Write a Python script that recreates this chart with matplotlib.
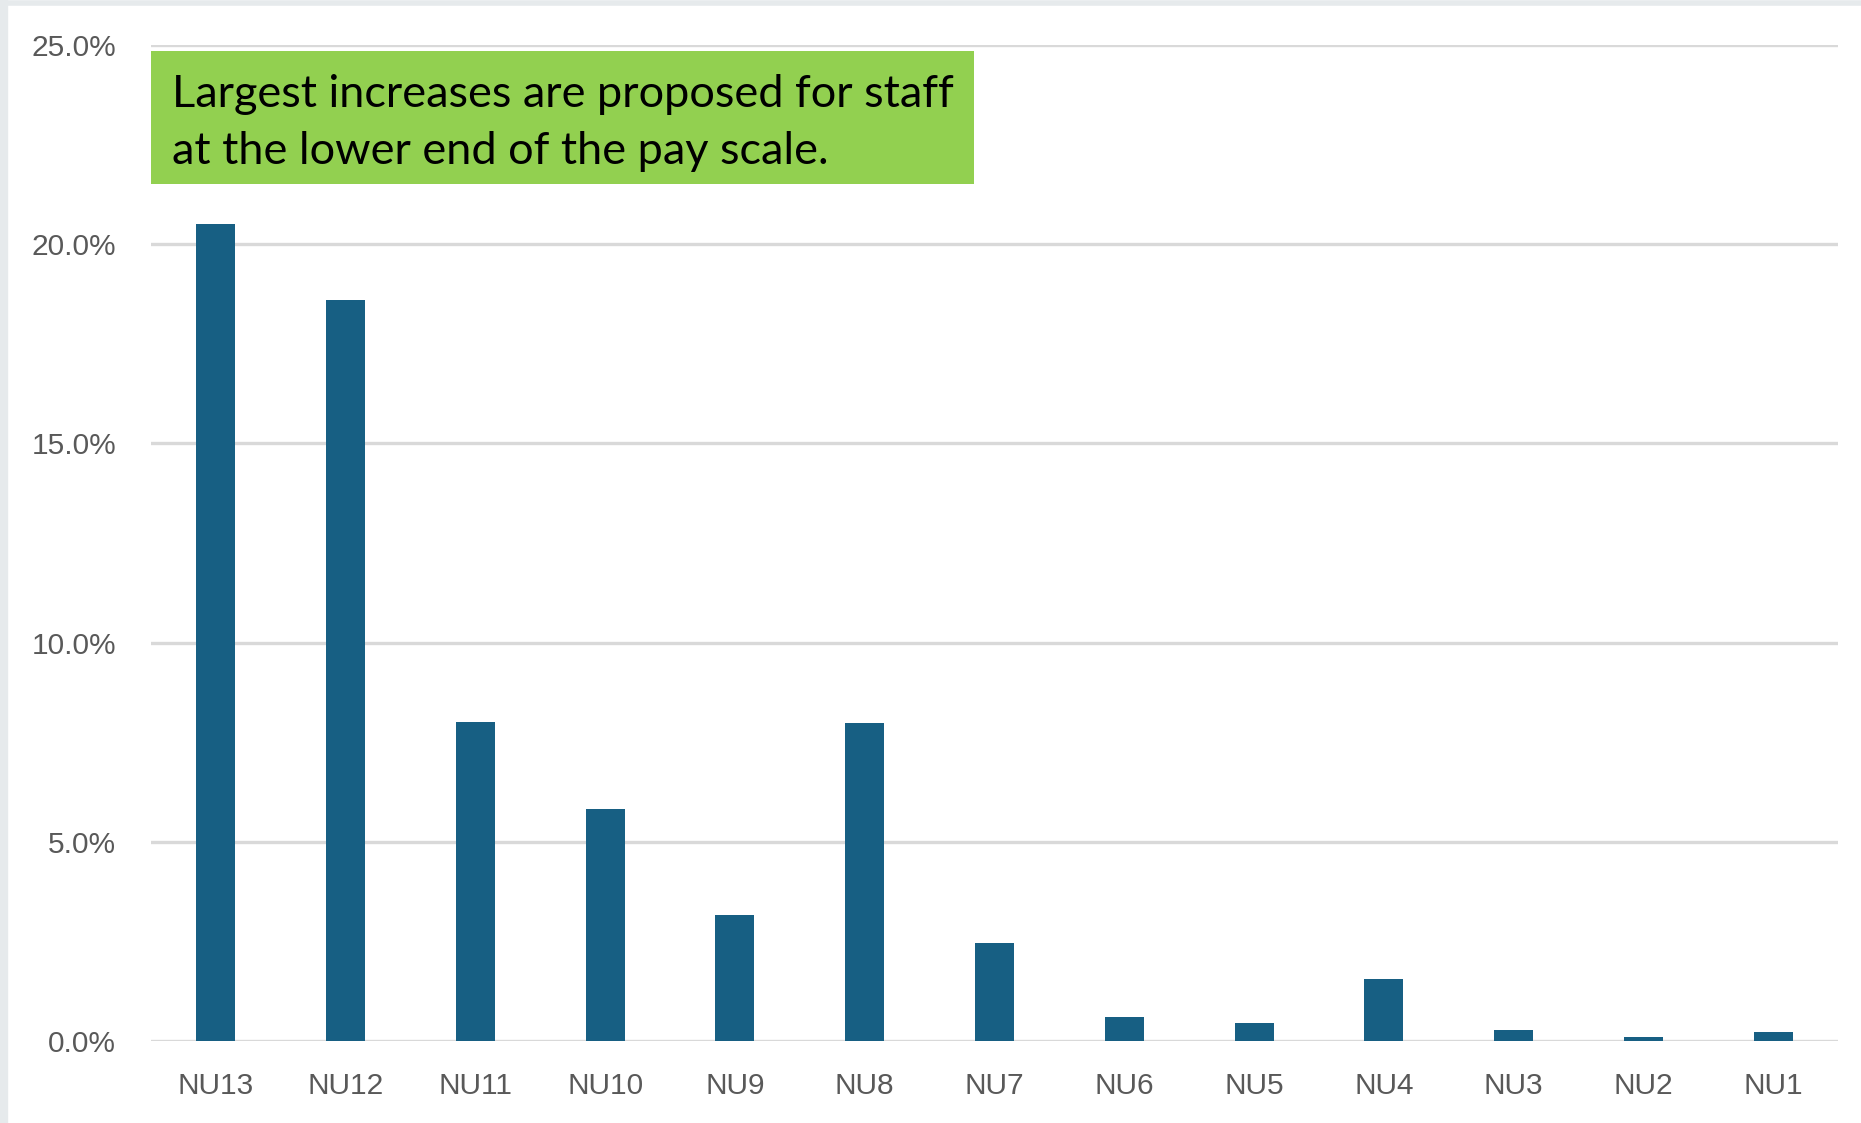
import matplotlib
matplotlib.use("Agg")
import matplotlib.pyplot as plt
from matplotlib.patches import Rectangle
from matplotlib.ticker import FuncFormatter
from matplotlib.lines import Line2D

categories = ["NU13", "NU12", "NU11", "NU10", "NU9", "NU8", "NU7",
              "NU6", "NU5", "NU4", "NU3", "NU2", "NU1"]
values = [20.5, 18.6, 8.0, 5.83, 3.17, 7.97, 2.45, 0.6, 0.46, 1.56, 0.28, 0.09, 0.23]
yticks = [0, 5, 10, 15, 20, 25]
note = "Largest increases are proposed for staff\nat the lower end of the pay scale."

W, H = 1861, 1123
fig = plt.figure(figsize=(W / 100, H / 100), dpi=100)
fig.patch.set_facecolor("white")

# axes placement in pixels
left, right, bottom, top = 151, 1838, H - 1041, H - 45
ax = fig.add_axes([left / W, bottom / H, (right - left) / W, (top - bottom) / H])

x = list(range(len(categories)))
ax.bar(x, values, width=0.30, color="#175f83", zorder=3)

ax.set_xlim(-0.5, len(categories) - 0.5)
ax.set_ylim(0, 25)
ax.set_yticks(yticks)
ax.yaxis.set_major_formatter(FuncFormatter(lambda v, p: f"{v:.1f}%"))
ax.set_xticks(x)
ax.set_xticklabels(categories)
ax.grid(axis="y", color="#d9d9d9", linewidth=2.4, zorder=0)
ax.set_axisbelow(True)
for s in ax.spines.values():
    s.set_visible(False)
ax.tick_params(axis="both", length=0, labelcolor="#595959", labelsize=21.5)
ax.tick_params(axis="y", pad=25)
ax.tick_params(axis="x", pad=22.5)
for lab in ax.get_xticklabels() + ax.get_yticklabels():
    lab.set_family("Liberation Sans")

# green annotation box
bx0, bx1, by0, by1 = 151, 974, 51, 184
fig.patches.append(Rectangle((bx0 / W, 1 - by1 / H), (bx1 - bx0) / W, (by1 - by0) / H,
                             transform=fig.transFigure, facecolor="#92d050",
                             edgecolor="none", zorder=5))
fig.text(172 / W, 1 - 123 / H, note, transform=fig.transFigure, ha="left", va="center",
         fontsize=32.5, family="Lato", color="black", linespacing=1.47, zorder=6)

# light frame on left and top
fig.add_artist(Line2D([4 / W, 4 / W], [0, 1], transform=fig.transFigure,
                      color="#e6eaec", linewidth=6))
fig.add_artist(Line2D([0, 1], [1 - 2.5 / H, 1 - 2.5 / H], transform=fig.transFigure,
                      color="#e6eaec", linewidth=4))

fig.savefig("out.png", dpi=100, facecolor="white")
